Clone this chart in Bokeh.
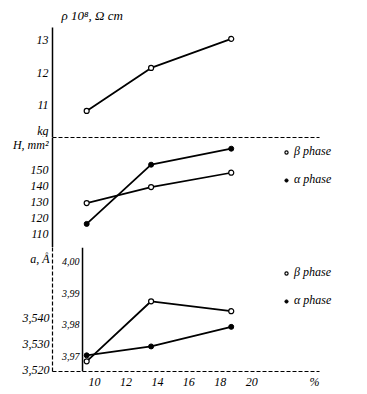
from bokeh.plotting import figure
from bokeh.layouts import column
from bokeh.models import (Range1d, LinearAxis, FixedTicker, Legend, LegendItem, Span)
from bokeh.embed import file_html
from bokeh.resources import INLINE

# ---- data ----
x_pct = [9.5, 13.6, 18.7]
rho_beta = [10.82, 12.15, 13.05]
h_beta = [129, 139, 148]
h_alpha = [116, 153, 163]
a_beta = [3.5234, 3.5464, 3.5426]
a_alpha = [3.5257, 3.5291, 3.5366]

x_ticks = [10, 12, 14, 16, 18, 20, 24]
x_tick_labels = ["10", "12", "14", "16", "18", "20", "%"]
rho_ticks = [11, 12, 13]
h_ticks = [110, 120, 130, 140, 150]
a_ticks = [3.52, 3.53, 3.54]
a_tick_labels = ["3,520", "3,530", "3,540"]
c_ticks = [3.97, 3.98, 3.99, 4.0]
c_tick_labels = ["3,97", "3,98", "3,99", "4,00"]

# unit captions that sit in the tick-label column (value -> text)
rho_caption = {10.15: "kg"}
h_caption = {166.0: "H, mm²"}
a_caption = {3.5625: "a, Å"}

FONT = "Liberation Serif"
X_START, X_END = 7.325, 26.8
INNER_X = 9.236          # position of the inner (second) lattice axis
LINE_END = 24.3


def style_axis(ax, size="12px"):
    ax.major_label_text_font = FONT
    ax.major_label_text_font_style = "italic"
    ax.major_label_text_font_size = size
    ax.major_label_text_color = "black"
    ax.minor_tick_line_color = None
    ax.axis_line_width = 1.5
    ax.axis_line_color = "black"
    ax.major_tick_line_color = None
    ax.major_tick_in = 0
    ax.major_tick_out = 0
    ax.major_label_standoff = 4


def base(frame_h, y_rng):
    p = figure(frame_width=306, frame_height=frame_h,
               x_range=Range1d(X_START, X_END), y_range=y_rng,
               output_backend="svg", toolbar_location=None,
               x_axis_location=None, y_axis_location=None,
               min_border_left=52, min_border_right=0,
               min_border_top=0, min_border_bottom=0)
    p.grid.visible = False
    p.outline_line_color = None
    p.background_fill_color = "white"
    return p


def separator(p, where):
    ax = LinearAxis(ticker=FixedTicker(ticks=[]), bounds=(X_START, LINE_END))
    ax.axis_line_dash = "4 2"
    ax.axis_line_width = 1.2
    ax.major_label_text_font_size = "0px"
    ax.major_tick_line_color = None
    ax.minor_tick_line_color = None
    p.add_layout(ax, where)


def left_axis(p, ticks, labels, caption, **kw):
    overrides = dict(zip(ticks, labels))
    overrides.update(caption)
    ax = LinearAxis(ticker=FixedTicker(ticks=list(ticks) + list(caption)),
                    major_label_overrides=overrides, **kw)
    style_axis(ax)
    p.add_layout(ax, "left")
    return ax


def legend(p, rb, ra, loc):
    lg = Legend(items=[LegendItem(label="β phase", renderers=[rb]),
                       LegendItem(label="α phase", renderers=[ra])],
                location=loc)
    lg.border_line_color = None
    lg.background_fill_alpha = 0
    lg.label_text_font = FONT
    lg.label_text_font_style = "italic"
    lg.label_text_font_size = "12px"
    lg.label_text_color = "black"
    lg.glyph_width = 8
    lg.glyph_height = 10
    lg.label_height = 10
    lg.label_standoff = 4
    lg.spacing = 13
    lg.padding = 0
    lg.margin = 0
    p.add_layout(lg)


def open_pts(p, ys, **kw):
    return p.scatter(x_pct, ys, size=5, marker="circle", fill_color="white",
                     line_color="black", line_width=1.2, **kw)


def full_pts(p, ys, **kw):
    return p.scatter(x_pct, ys, size=5, marker="circle", fill_color="black",
                     line_color="black", **kw)


# ---- top panel: resistivity ----
p1 = base(110, Range1d(10, 13.4))
p1.title.text = "ρ 10⁸, Ω cm"
p1.title.text_font = FONT
p1.title.text_font_style = "italic"
p1.title.text_font_size = "13px"
p1.title.text_color = "black"
p1.title.offset = 9
left_axis(p1, rho_ticks, [str(t) for t in rho_ticks], rho_caption)
p1.line(x_pct, rho_beta, line_color="black", line_width=1.8)
open_pts(p1, rho_beta)

# ---- middle panel: hardness ----
p2 = base(110, Range1d(101.25, 170))
separator(p2, "above")
separator(p2, "below")
left_axis(p2, h_ticks, [str(t) for t in h_ticks], h_caption)
p2.line(x_pct, h_beta, line_color="black", line_width=1.6)
p2.line(x_pct, h_alpha, line_color="black", line_width=1.8)
rb2 = open_pts(p2, h_beta)
ra2 = full_pts(p2, h_alpha)
legend(p2, rb2, ra2, (230, 60))

# ---- bottom panel: lattice parameter ----
p3 = base(124, Range1d(3.5195, 3.567))
p3.extra_y_ranges = {"c": Range1d(3.9654, 4.0043)}
ax_a = left_axis(p3, a_ticks, a_tick_labels, a_caption)
ax_a.axis_line_dash = "4 2"
ax_a.axis_line_width = 1.2
ax_a.major_label_standoff = 3
p3.add_layout(Span(location=INNER_X, dimension="height", line_color="black",
                   line_width=1.5))
p3.text(x=[INNER_X] * len(c_ticks), y=c_ticks, text=c_tick_labels,
        y_range_name="c", x_offset=-3, text_align="right",
        text_baseline="middle", text_font={"value": FONT},
        text_font_style="italic", text_font_size="10px", text_color="black")
axx = LinearAxis(ticker=FixedTicker(ticks=x_ticks),
                 major_label_overrides=dict(zip(x_ticks, x_tick_labels)),
                 bounds=(X_START, LINE_END))
style_axis(axx)
axx.axis_line_dash = "4 2"
axx.axis_line_width = 1.2
axx.major_label_standoff = 3
p3.add_layout(axx, "below")
p3.line(x_pct, a_beta, line_color="black", line_width=1.8)
p3.line(x_pct, a_alpha, line_color="black", line_width=1.8)
rb3 = open_pts(p3, a_beta)
ra3 = full_pts(p3, a_alpha)
legend(p3, rb3, ra3, (230, 63))

layout = column(p1, p2, p3, spacing=0)
open("out.html", "w").write(file_html(layout, INLINE))
